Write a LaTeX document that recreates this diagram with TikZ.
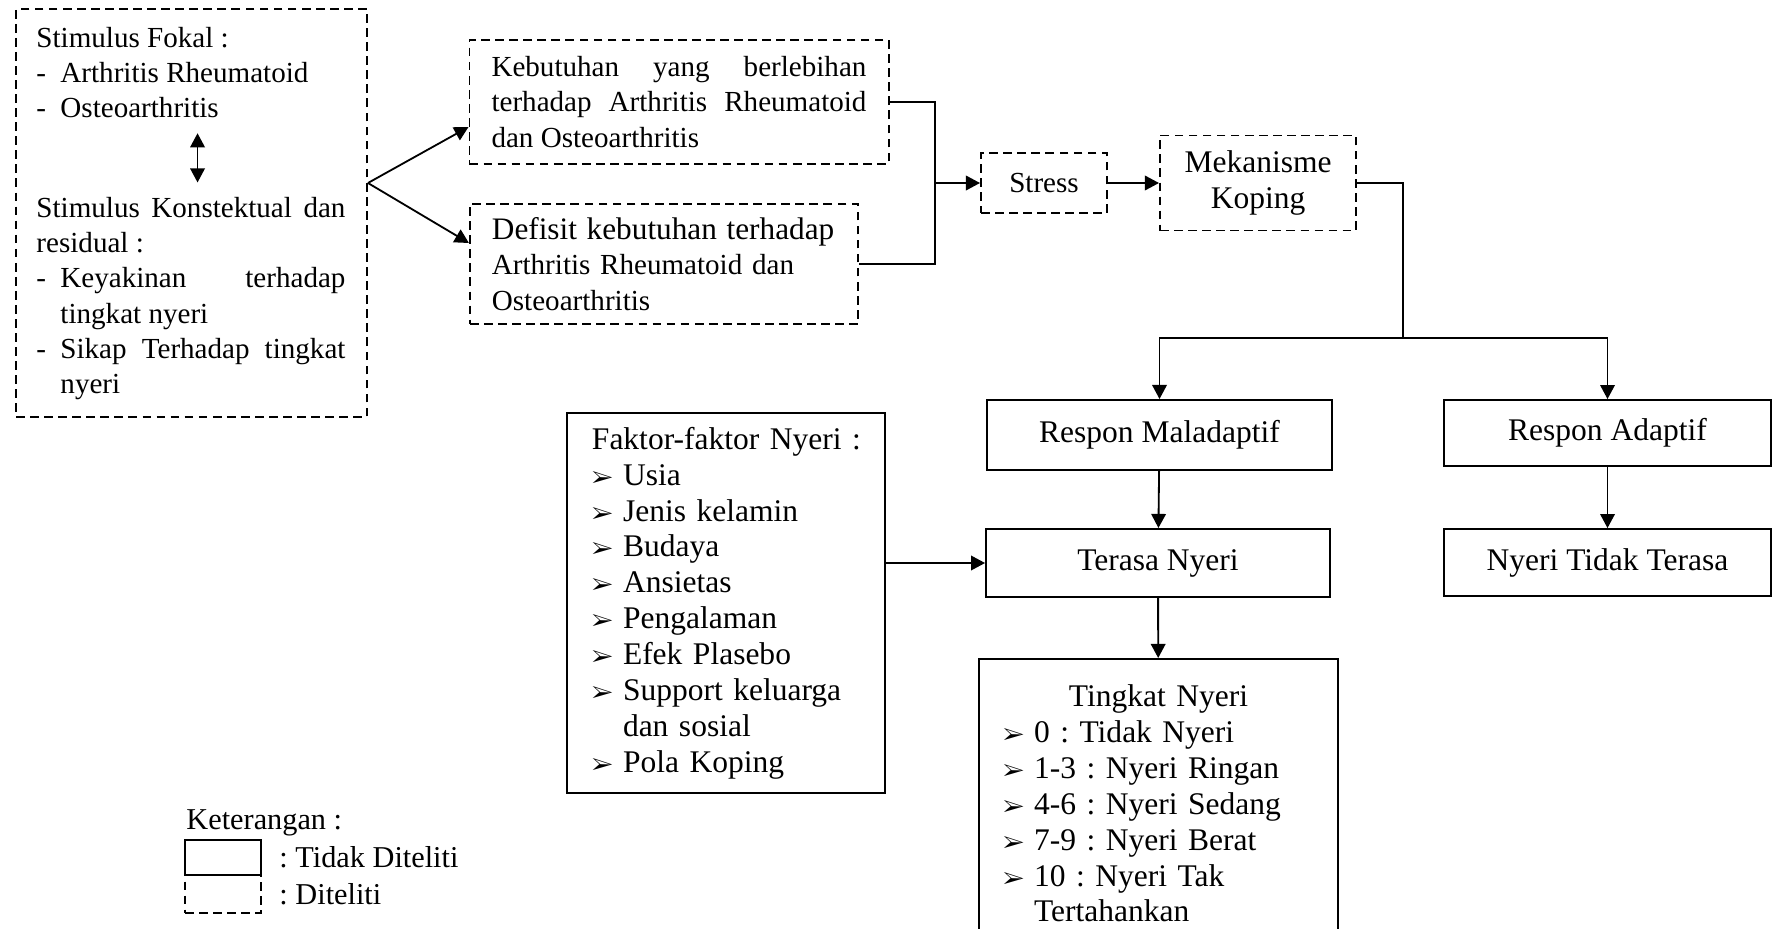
\documentclass[tikz,border=0pt]{standalone}
\usepackage{fontspec}
\setmainfont{Liberation Serif}
\usepackage{pifont}
\usetikzlibrary{arrows.meta,positioning,calc}
\hyphenpenalty=10000
\exhyphenpenalty=10000
\tolerance=9999
\frenchspacing
\newcommand{\dashitem}[1]{\par\hangindent=9.9pt\hangafter=1\noindent\makebox[9.9pt][l]{-}#1}
\newcommand{\arrowitem}[1]{\par\hangindent=12.8pt\hangafter=1\noindent\makebox[12.8pt][l]{\fontsize{9.5}{10}\selectfont\ding{226}}#1}
\tikzset{
  dashbox/.style={draw, dash pattern=on 3.6pt off 2.2pt, line width=0.8pt, inner sep=0pt},
  solidbox/.style={draw, line width=0.8pt, inner sep=0pt},
  txt/.style={inner sep=0pt},
  big/.style={font=\fontsize{13}{14.8}\selectfont},
  link/.style={line width=0.75pt},
  arrow/.style={-{Triangle[length=5.8pt,width=6pt]}, line width=0.75pt},
  dblarrow/.style={{Triangle[length=5.8pt,width=6pt]}-{Triangle[length=5.8pt,width=6pt]}, line width=0.75pt}
}
\begin{document}
\begin{tikzpicture}[x=0.4126pt, y=-0.4126pt, font=\fontsize{12}{14.5}\selectfont]
  \useasboundingbox (0,0) rectangle (1773,928);
  \node[dashbox, minimum width=144.8pt, minimum height=168.3pt] (stim) at (191.5,213) {};
  \node[txt, anchor=north west, text width=127.5pt, align=justify] (fokal) at (36,27)
    {Stimulus Fokal :\dashitem{Arthritis Rheumatoid}\dashitem{Osteoarthritis}\par};
  \node[txt, anchor=north west, text width=127.5pt, align=justify] (konteks) at (36,197)
    {Stimulus Konstektual dan residual :\dashitem{Keyakinan terhadap tingkat nyeri}\dashitem{Sikap Terhadap tingkat nyeri}\par};
  \draw[dblarrow, shorten <=6pt, shorten >=6pt] ([xshift=2.7pt]fokal.south) -- ([xshift=2.7pt]konteks.north);
  \node[dashbox, text width=154.7pt, inner xsep=9.1pt, minimum height=51.2pt, align=justify] (keb) at (679,102)
    {Kebutuhan yang berlebihan terhadap Arthritis Rheumatoid dan Osteoarthritis};
  \node[dashbox, text width=142pt, inner xsep=9.1pt, minimum height=49.5pt, align=left] (def) at (664,264)
    {{\fontsize{12.9}{14.5}\selectfont Defisit kebutuhan terhadap}\\Arthritis Rheumatoid dan\\Osteoarthritis};
  \node[dashbox, minimum width=52pt, minimum height=24.8pt] (stress) at (1044,183) {Stress};
  \node[dashbox, big, align=center, minimum width=80.9pt, minimum height=39.2pt] (mek) at (1258,183) {Mekanisme\\Koping};
  \node[solidbox, big, minimum width=142.3pt, minimum height=28.9pt] (mal) at (1159.5,435) {Respon Maladaptif};
  \node[solidbox, big, minimum width=134.9pt, minimum height=27.2pt] (adap) at (1607.5,433) {Respon Adaptif};
  \node[solidbox, big, minimum width=141.9pt, minimum height=28.1pt] (terasa) at (1158,563) {Terasa Nyeri};
  \node[solidbox, big, minimum width=134.9pt, minimum height=27.6pt] (tidak) at (1607.5,562.5) {Nyeri Tidak Terasa};
  \node[solidbox, big, text width=125.2pt, inner xsep=3pt, minimum height=156.8pt, align=left] (faktor) at (726,603)
    {\leftskip=7.3pt Faktor-faktor Nyeri :\arrowitem{Usia}\arrowitem{Jenis kelamin}\arrowitem{Budaya}\arrowitem{Ansietas}%
     \arrowitem{Pengalaman}\arrowitem{Efek Plasebo}\arrowitem{Support keluarga dan sosial}\arrowitem{Pola Koping}\par};
  \node[solidbox, big, anchor=north, text width=128.3pt, inner xsep=9.9pt, inner ysep=10.7pt, align=left] (tingkat) at (1158.5,658)
    {{\centering Tingkat Nyeri\par}\arrowitem{0 : Tidak Nyeri}\arrowitem{1-3 : Nyeri Ringan}\arrowitem{4-6 : Nyeri Sedang}%
     \arrowitem{7-9 : Nyeri Berat}\arrowitem{10 : Nyeri Tak Tertahankan}\par};
  \coordinate (join) at (935,183);
  \coordinate (fork) at (stim.east |- join);
  \coordinate (split) at (1403,338);
  \draw[arrow] (fork) -- ($(keb.west)+(0,25)$);
  \draw[arrow] (fork) -- ($(def.west)+(0,-21)$);
  \draw[link] (keb.east) -| (join) |- (def.east);
  \draw[arrow] (join) -- (stress.west);
  \draw[arrow] (stress.east) -- (mek.west);
  \draw[link] (mek.east) -| (split);
  \draw[arrow] (split) -| (mal.north);
  \draw[arrow] (split) -| (adap.north);
  \draw[arrow] (mal) -- (terasa);
  \draw[arrow] (adap) -- (tidak);
  \draw[arrow] (terasa) -- (tingkat);
  \draw[arrow] (faktor.east |- terasa.west) -- (terasa.west);
  \node[txt, anchor=west, font=\fontsize{12.5}{14}\selectfont] (ket) at (186,823) {Keterangan :};
  \node[solidbox, minimum width=31.4pt, minimum height=14.4pt] (legsolid) at (223,857.5) {};
  \node[dashbox, minimum width=31.4pt, minimum height=15.7pt] (legdash) at (223,894) {};
  \node[txt, right=7pt of legsolid, font=\fontsize{12.5}{14}\selectfont] (legsolidtxt) {: Tidak Diteliti};
  \node[txt, right=7pt of legdash, font=\fontsize{12.5}{14}\selectfont] (legdashtxt) {: Diteliti};
\end{tikzpicture}
\end{document}
